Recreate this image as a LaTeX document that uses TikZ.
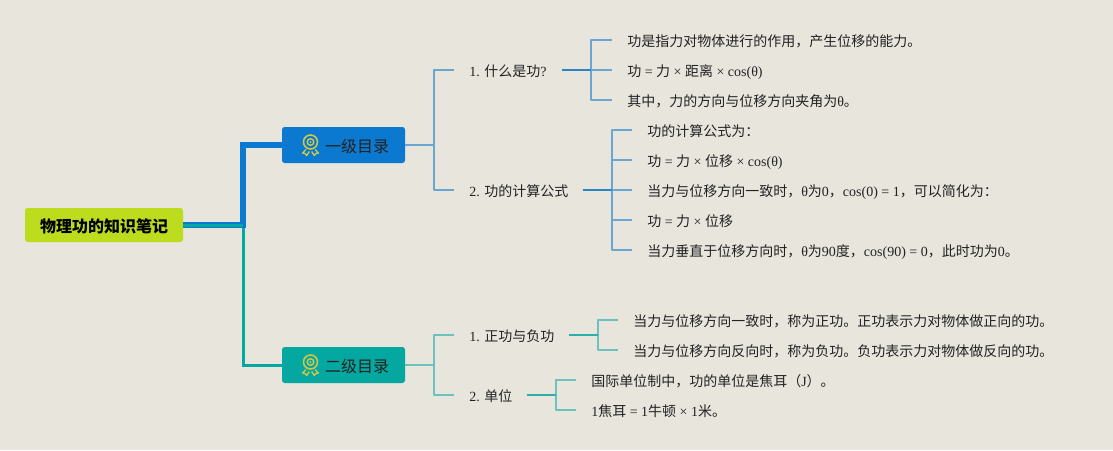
\documentclass[tikz,border=0pt]{standalone}
\usepackage{fontspec}
\setmainfont{Liberation Serif}
\newfontfamily\cjk{Noto Sans CJK SC}
\newcommand\cj[1]{{\cjk #1}}
\definecolor{bgc}{HTML}{E8E5DD}
\definecolor{rootc}{HTML}{BEDC1E}
\definecolor{bluec}{HTML}{0B79D0}
\definecolor{tealc}{HTML}{04A8A0}
\definecolor{blueL}{HTML}{6BA6D3}
\definecolor{blueS}{HTML}{2A85C4}
\definecolor{tealL}{HTML}{6CC0BE}
\definecolor{tealS}{HTML}{2CAEAB}
\definecolor{medal}{HTML}{D2C846}
\definecolor{inkc}{HTML}{222222}
\tikzset{
 rootbox/.style={fill=rootc,rounded corners=2pt,minimum width=118.5pt,minimum height=25.5pt,inner sep=0pt,text=black,text height=12pt,text depth=0.5pt,font=\fontsize{12}{14}\selectfont\bfseries},
 mainbox/.style={rounded corners=2pt,minimum width=92.25pt,minimum height=27pt,inner sep=0pt,text=inkc,text height=12pt,text depth=0.5pt,font=\fontsize{12}{14}\selectfont},
 lab/.style={anchor=west,inner xsep=11.25pt,inner ysep=0pt,text=inkc,align=left,text height=10.5pt,text depth=0.5pt,font=\fontsize{10.5}{12}\selectfont},
 blueline/.style={draw=blueL,line width=1.1pt,line join=round},
 bluestem/.style={draw=blueS,line width=1.3pt},
 tealline/.style={draw=tealL,line width=1.1pt,line join=round},
 tealstem/.style={draw=tealS,line width=1.3pt},
 medalpic/.pic={
  \draw[medal,line width=1.15pt] (0,-3) circle[radius=7];
  \draw[medal,line width=1.05pt] (0,-3) circle[radius=3.3];
  \fill[medal] (0,-3) circle[radius=1];
  \draw[medal,line width=1pt,line join=round] (-4.5,4.5) -- (-8,8) -- (-5.6,8.4) -- (-3.8,10.5) -- (-1.2,6.5);
  \draw[medal,line width=1pt,line join=round] (4.5,4.5) -- (8,8) -- (5.6,8.4) -- (3.8,10.5) -- (1.2,6.5);
 }
}
\begin{document}
\begin{tikzpicture}[x=0.75pt,y=-0.75pt]
\fill[bgc] (0,0) rectangle (1113,450);
\useasboundingbox (0,0) rectangle (1113,450);
% main nodes
\node[rootbox] (root) at (104,225) {\cj{物理功的知识笔记}};
\node[mainbox,fill=bluec] (first) at (343.5,145) {\hspace*{20.25pt}\cj{一级目录}};
\node[mainbox,fill=tealc] (second) at (343.5,365) {\hspace*{20.25pt}\cj{二级目录}};
\pic at (310.5,145) {medalpic};
\pic at (310.5,365) {medalpic};
% level 2
\node[lab,text width=57.75pt] (a1) at (454,70) {\mbox{1.\ \cj{什么是功}?}};
\node[lab,text width=73.5pt] (a2) at (454,190) {\mbox{2.\ \cj{功的计算公式}}};
\node[lab,text width=63pt] (b1) at (454,335) {\mbox{1.\ \cj{正功与负功}}};
\node[lab,text width=31.5pt] (b2) at (454,395) {\mbox{2.\ \cj{单位}}};
% leaves
\node[lab] (a11) at (612,40) {\cj{功是指力对物体进行的作用，产生位移的能力。}};
\node[lab] (a12) at (612,70) {\cj{功} = \cj{力} × \cj{距离} × cos(θ)};
\node[lab] (a13) at (612,100) {\cj{其中，力的方向与位移方向夹角为}θ\cj{。}};
\node[lab] (a21) at (632,130) {\cj{功的计算公式为：}};
\node[lab] (a22) at (632,160) {\cj{功} = \cj{力} × \cj{位移} × cos(θ)};
\node[lab] (a23) at (632,190) {\cj{当力与位移方向一致时，}θ\cj{为}0\cj{，}cos(0) = 1\cj{，可以简化为：}};
\node[lab] (a24) at (632,220) {\cj{功} = \cj{力} × \cj{位移}};
\node[lab] (a25) at (632,250) {\cj{当力垂直于位移方向时，}θ\cj{为}90\cj{度，}cos(90) = 0\cj{，此时功为}0\cj{。}};
\node[lab] (b11) at (618,320) {\cj{当力与位移方向一致时，称为正功。正功表示力对物体做正向的功。}};
\node[lab] (b12) at (618,350) {\cj{当力与位移方向反向时，称为负功。负功表示力对物体做反向的功。}};
\node[lab] (b21) at (576,380) {\cj{国际单位制中，功的单位是焦耳（}J\cj{）。}};
\node[lab] (b22) at (576,410) {1\cj{焦耳} = 1\cj{牛顿} × 1\cj{米。}};
% junctions
\coordinate (jm) at (243,225);
\coordinate (j1) at (434,145);
\coordinate (j2) at (434,365);
\coordinate (ja1) at (591,70);
\coordinate (ja2) at (612,190);
\coordinate (jb1) at (598,335);
\coordinate (jb2) at (556,395);
% trunk connectors
\draw[tealc,line width=2.25pt,line join=miter] (root.east) -- (jm) |- (second.west);
\draw[bluec,line width=4.2pt,line join=miter] (root.east) -| (jm |- first.west) -- (first.west);
\draw[tealc,line width=2.25pt] (root.east) -- (jm);
% blue bracket
\draw[blueline] (first.east) -- (j1);
\draw[blueline] (a1.west) -| (j1) |- (a2.west);
\draw[blueline] (a11.west) -| (ja1) |- (a13.west);
\draw[blueline] (ja1) -- (a12.west);
\draw[bluestem] (a1.east) -- (ja1);
\draw[blueline] (a21.west) -| (ja2) |- (a25.west);
\draw[blueline] (a22.west) -- (a22.west -| ja2);
\draw[blueline] (a24.west) -- (a24.west -| ja2);
\draw[blueline] (ja2) -- (a23.west);
\draw[bluestem] (a2.east) -- (ja2);
% teal bracket
\draw[tealline] (second.east) -- (j2);
\draw[tealline] (b1.west) -| (j2) |- (b2.west);
\draw[tealline] (b11.west) -| (jb1) |- (b12.west);
\draw[tealstem] (b1.east) -- (jb1);
\draw[tealline] (b21.west) -| (jb2) |- (b22.west);
\draw[tealstem] (b2.east) -- (jb2);
\end{tikzpicture}
\end{document}
